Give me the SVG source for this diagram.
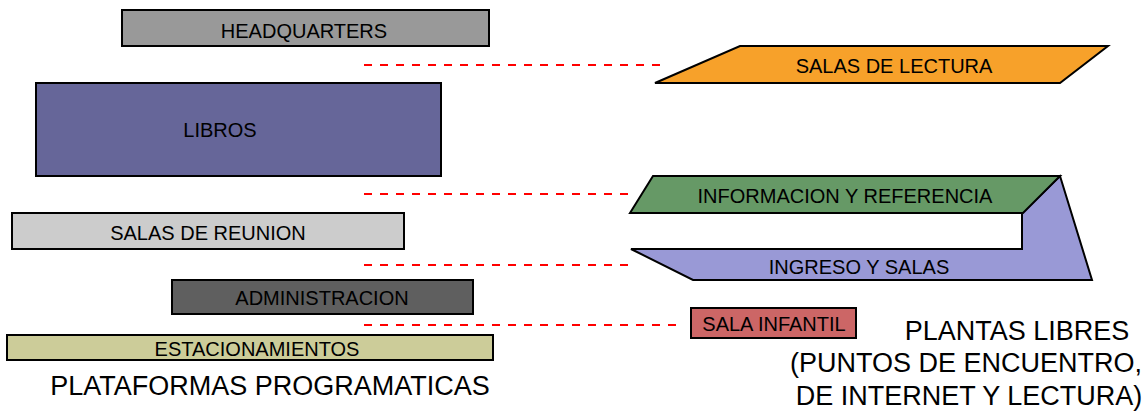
<svg xmlns="http://www.w3.org/2000/svg" width="1142" height="418" viewBox="0 0 1142 418">
<style>
.n{stroke:#000;stroke-width:2}
.t{font-family:"Liberation Sans",Arial,sans-serif;font-size:20px;fill:#000;text-anchor:middle}
.big{font-family:"Liberation Sans",Arial,sans-serif;font-size:27px;fill:#000;text-anchor:middle}
.c{stroke:#ff0000;stroke-width:2;stroke-dasharray:8,8;fill:none}
</style>
<rect width="1142" height="418" fill="#fff"/>
<g id="connectors">
<line class="c" x1="364" y1="65" x2="665" y2="65"/>
<line class="c" x1="364" y1="194" x2="633" y2="194"/>
<line class="c" x1="364" y1="265" x2="633" y2="265"/>
<line class="c" x1="364" y1="325" x2="683" y2="325"/>
</g>
<g id="headquarters"><rect class="n" x="122" y="10" width="367" height="36" fill="#999999"/><text class="t" x="304" y="38">HEADQUARTERS</text></g>
<g id="libros"><rect class="n" x="36" y="83" width="405" height="93" fill="#666699"/><text class="t" x="220" y="137">LIBROS</text></g>
<g id="salas-reunion"><rect class="n" x="12" y="213" width="392" height="36" fill="#cccccc"/><text class="t" x="208" y="240">SALAS DE REUNION</text></g>
<g id="administracion"><rect class="n" x="172" y="280" width="301" height="34" fill="#5f5f5f"/><text class="t" x="322" y="305">ADMINISTRACION</text></g>
<g id="estacionamientos"><rect class="n" x="7" y="335" width="486" height="25" fill="#cccc99"/><text class="t" x="257" y="356">ESTACIONAMIENTOS</text></g>
<g id="plataformas"><text class="big" x="270" y="395">PLATAFORMAS PROGRAMATICAS</text></g>
<g id="salas-lectura"><polygon class="n" points="655,83 740,46 1108,46 1060,83" fill="#f7a12a"/><text class="t" x="894" y="73">SALAS DE LECTURA</text></g>
<g id="ingreso-salas"><polygon class="n" points="1060,176 1092,280 693,280 631,249 1022,249 1022,213" fill="#9999d6"/><text class="t" x="859" y="274">INGRESO Y SALAS</text></g>
<g id="informacion"><polygon class="n" points="630,213 653,176 1060,176 1023,213" fill="#669966"/><text class="t" x="845" y="203">INFORMACION Y REFERENCIA</text></g>
<g id="sala-infantil"><rect class="n" x="691" y="308" width="165" height="30" fill="#cc6666"/><text class="t" x="774" y="331">SALA INFANTIL</text></g>
<g id="plantas-libres">
<text class="big" x="1017" y="340">PLANTAS LIBRES</text>
<text class="big" x="966" y="372">(PUNTOS DE ENCUENTRO,</text>
<text class="big" x="969" y="405">DE INTERNET Y LECTURA)</text>
</g>
</svg>
